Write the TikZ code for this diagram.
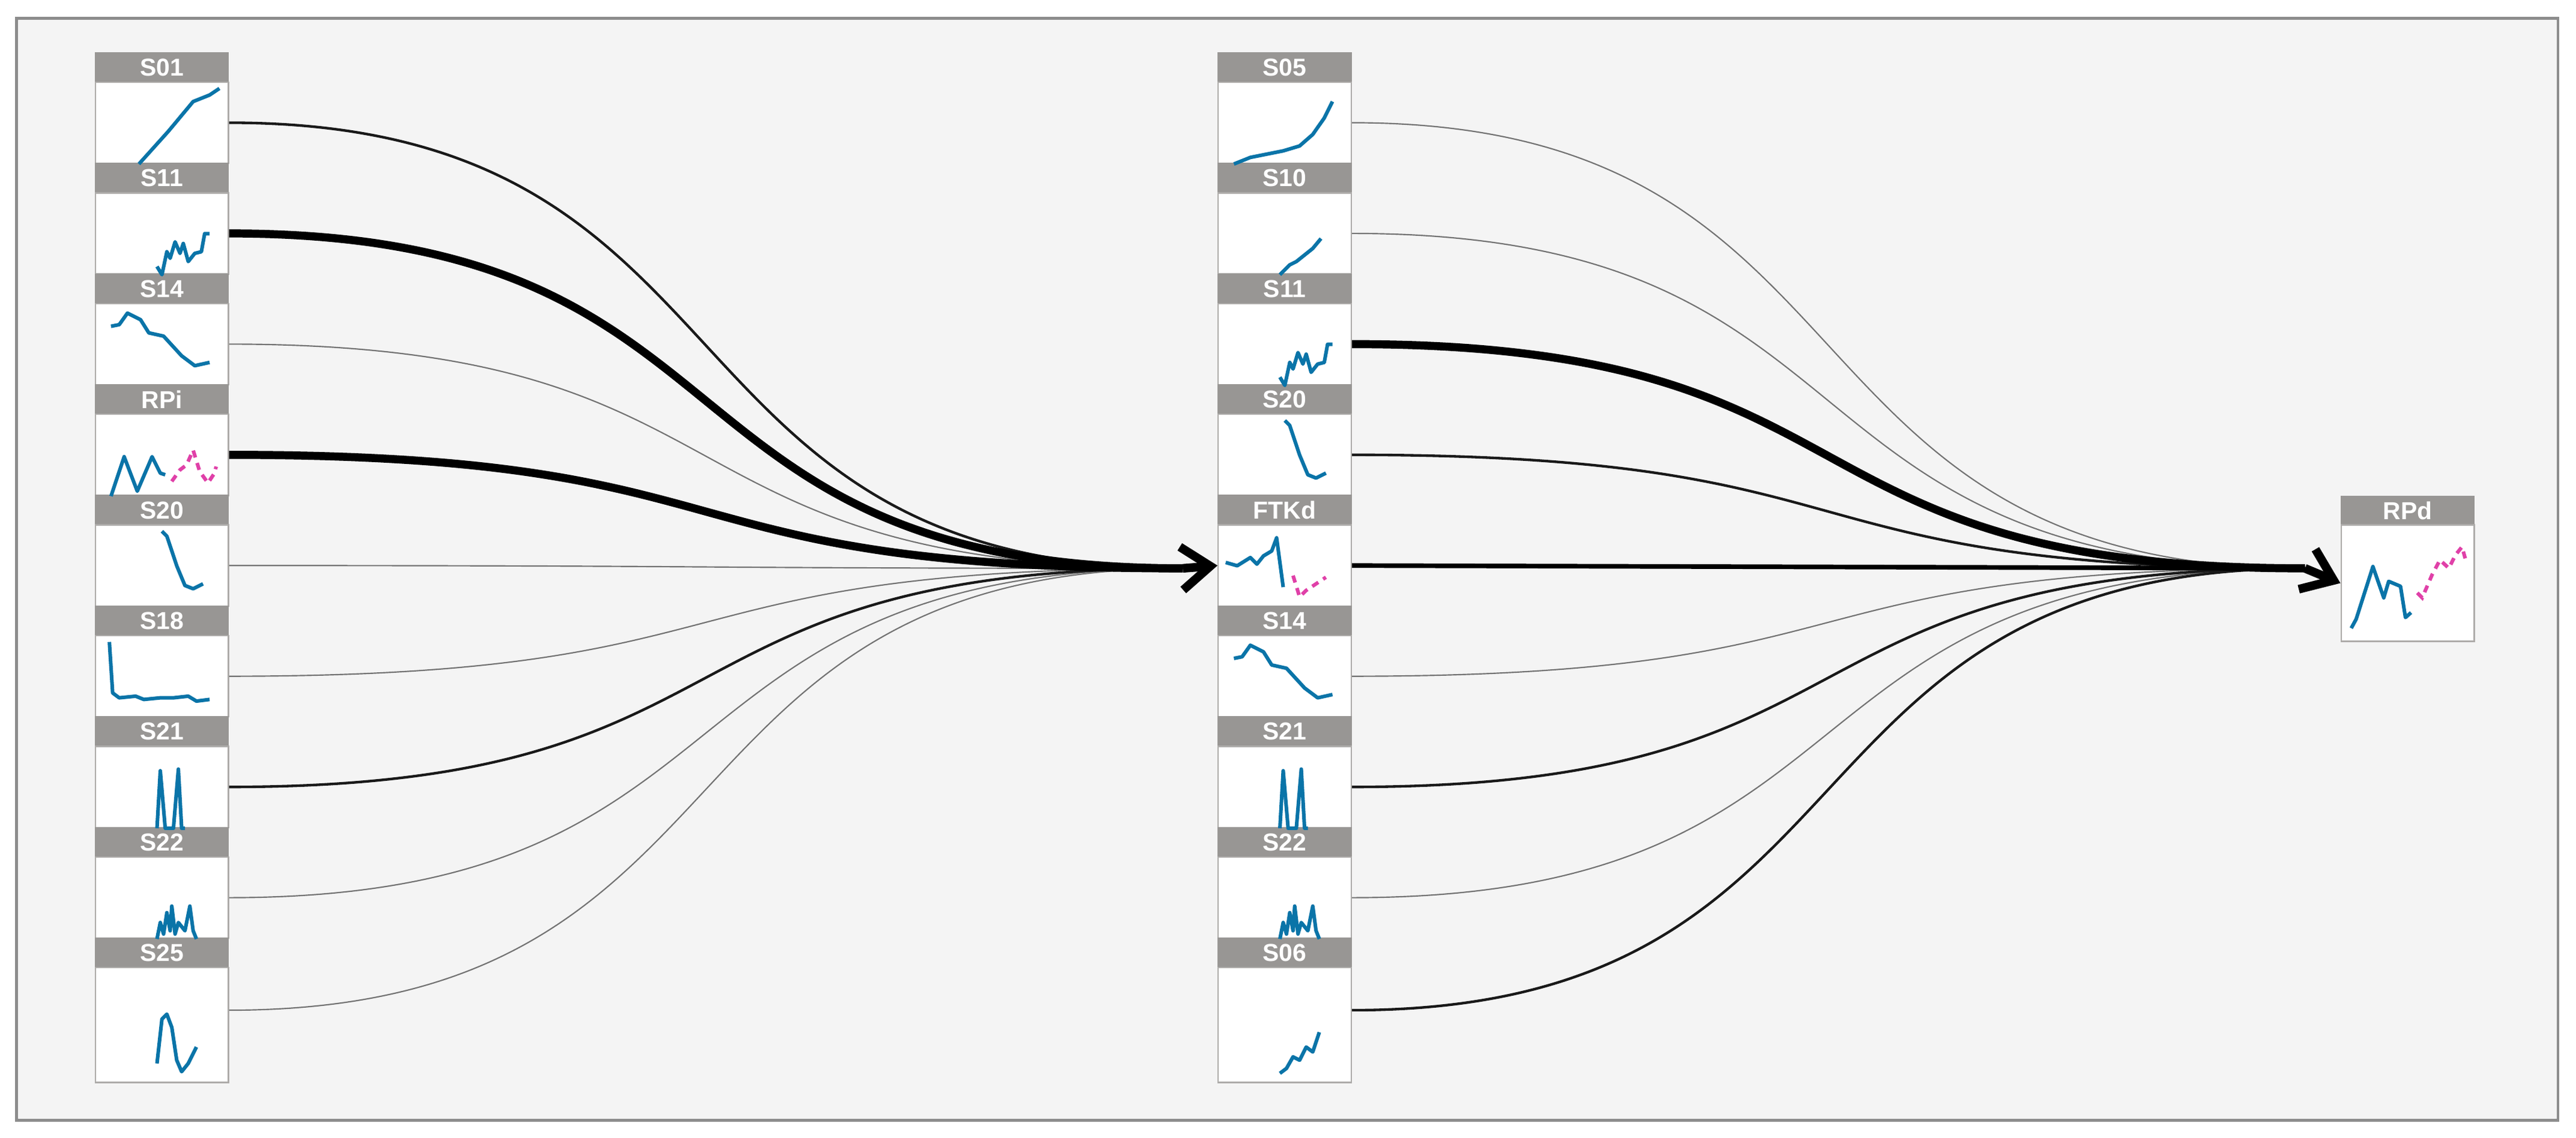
\documentclass[tikz,border=0pt]{standalone}
\usepackage{fontspec}
\setmainfont{Liberation Sans}
\usetikzlibrary{arrows.meta}
\definecolor{bg}{HTML}{F4F4F4}
\definecolor{hd}{HTML}{989694}
\definecolor{bl}{HTML}{0A74A8}
\definecolor{pk}{HTML}{E040A8}
\begin{document}
\begin{tikzpicture}[x=0.02cm,y=0.02cm,
  panel/.style={draw=hd!80,fill=white,minimum width=1.62cm,minimum height=0.988cm,inner sep=0,line width=0.5pt},
  head/.style={fill=hd,draw=hd,minimum width=1.62cm,minimum height=0.36cm,inner sep=0,text=white,font=\fontsize{8.5}{9}\selectfont\bfseries},
  spark/.style={draw=bl,line width=1.25pt,line join=round},
  pspark/.style={draw=pk,line width=1.25pt,dash pattern=on 2.5pt off 2pt},
  thin/.style={draw=black!55,line width=0.45pt},
  med/.style={draw=black!90,line width=0.9pt},
  thk/.style={draw=black,line width=2.8pt},
  arr/.style={draw=black,line width=3pt,-{Straight Barb[length=10pt,width=15pt,line width=3pt]}}]
\useasboundingbox[fill=white] (0,0) rectangle (1568,-692.5);
\draw[fill=bg,draw=black!45,line width=1pt] (10,-11) rectangle (1557,-682);
\foreach \i/\t in {0/S01,1/S11,2/S14,3/RPi,4/S20,5/S18,6/S21,7/S22}{
  \node[head] (LH\i) at (98.5,{-(32+67.4*\i+9)}) {\t};
  \node[panel] (L\i) at (98.5,{-(32+67.4*\i+18+24.7)}) {};
}
\node[head] (LH8) at (98.5,-580) {S25};
\node[panel,minimum height=1.4cm] (L8) at (98.5,-624) {};
\foreach \i/\t in {0/S05,1/S10,2/S11,3/S20,4/FTKd,5/S14,6/S21,7/S22}{
  \node[head] (MH\i) at (782,{-(32+67.4*\i+9)}) {\t};
  \node[panel] (M\i) at (782,{-(32+67.4*\i+18+24.7)}) {};
}
\node[head] (MH8) at (782,-580) {S06};
\node[panel,minimum height=1.4cm] (M8) at (782,-624) {};
\node[head] (RH) at (1465.5,-311) {RPd};
\node[panel,minimum height=1.42cm] (R) at (1465.5,-355) {};
% sparklines
\def\sA{(27,0)--(45,20)--(60,38)--(70,42)--(76,46)}
\def\sB{(38,5)--(41,0)--(44,14)--(46,10)--(49,20)--(52,13)--(54,19)--(57,8)--(61,13)--(65,14)--(67,25)--(70,25)}
\def\sC{(10,36)--(15,37)--(20,44)--(28,40)--(33,32)--(42,30)--(53,18)--(61,12)--(70,14)}
\def\sE{(41,46)--(44,43)--(50,25)--(55,13)--(60,11)--(66,14)}
\def\sF{(9,46)--(11,15)--(15,12)--(25,13)--(30,11)--(40,12)--(48,12)--(57,13)--(62,10)--(70,11)}
\def\sG{(38,0)--(40,35)--(43,0)--(48,0)--(51,36)--(53,0)--(55,0)}
\def\sH{(38,0)--(40,10)--(42,3)--(44,16)--(46,5)--(47,20)--(49,3)--(51,10)--(55,5)--(58,20)--(60,5)--(62,0)}
\foreach \n/\s in {L0/\sA,L1/\sB,L2/\sC,L4/\sE,L5/\sF,L6/\sG,L7/\sH,M2/\sB,M3/\sE,M5/\sC,M6/\sG,M7/\sH}{
  \draw[spark,shift={(\n.south west)}] \s;
}
\draw[spark,shift={(L3.south west)}] (10,0)--(18,24)--(26,3)--(35,24)--(40,14)--(43,13);
\draw[pspark,shift={(L3.south west)}] (47,9)--(52,16)--(56,19)--(60,28)--(64,15)--(69,8)--(73,14)--(74,18);
\draw[spark,shift={(L8.south west)}] (38,12)--(41,39)--(44,42)--(47,34)--(50,14)--(53,7)--(57,12)--(62,22);
\draw[spark,shift={(M0.south west)}] (10,0)--(20,4)--(40,8)--(50,11)--(58,18)--(65,28)--(70,38);
\draw[spark,shift={(M1.south west)}] (38,0)--(44,6)--(48,8)--(53,12)--(58,16)--(63,22);
\draw[spark,shift={(M4.south west)}] (5,27)--(12,25)--(20,30)--(24,26)--(28,31)--(33,34)--(36,42)--(40,12);
\draw[pspark,shift={(M4.south west)}] (46,19)--(50,6)--(54,10)--(60,14)--(66,18);
\draw[spark,shift={(M8.south west)}] (38,6)--(42,9)--(46,16)--(50,14)--(54,22)--(58,19)--(62,31);
\draw[spark,shift={(R.south west)}] (6.6,8.5)--(9.6,14)--(19.8,46)--(26.4,27)--(29.4,37)--(36.6,34)--(39.6,15)--(43,18);
\draw[pspark,shift={(R.south west)}] (46.8,30)--(49.8,27)--(55.8,41)--(60.6,50)--(66,45)--(70,53)--(74,58)--(76,51);
% connectors
\coordinate (h1) at (720,-346);
\coordinate (h2) at (1403,-346);
\coordinate (L8o) at ([yshift=0.18cm]L8.east);
\coordinate (M8o) at ([yshift=0.18cm]M8.east);
\foreach \n/\s in {L2/thin,L4/thin,L5/thin,L7/thin,L8o/thin,L0/med,L6/med,L1/thk,L3/thk}{
  \draw[\s] (\n.east) .. controls +(330,0) and +(-330,0) .. (h1);
}
\foreach \n/\s in {M0/thin,M1/thin,M5/thin,M7/thin,M3/med,M6/med,M8o/med,M2/thk}{
  \draw[\s] (\n.east) .. controls +(330,0) and +(-330,0) .. (h2);
}
\draw[draw=black,line width=1.6pt] (M4.east) -- (h2);
\draw[arr] (h1) -- (M4.west);
\draw[arr] (h2) -- (R.west);
\end{tikzpicture}
\end{document}
